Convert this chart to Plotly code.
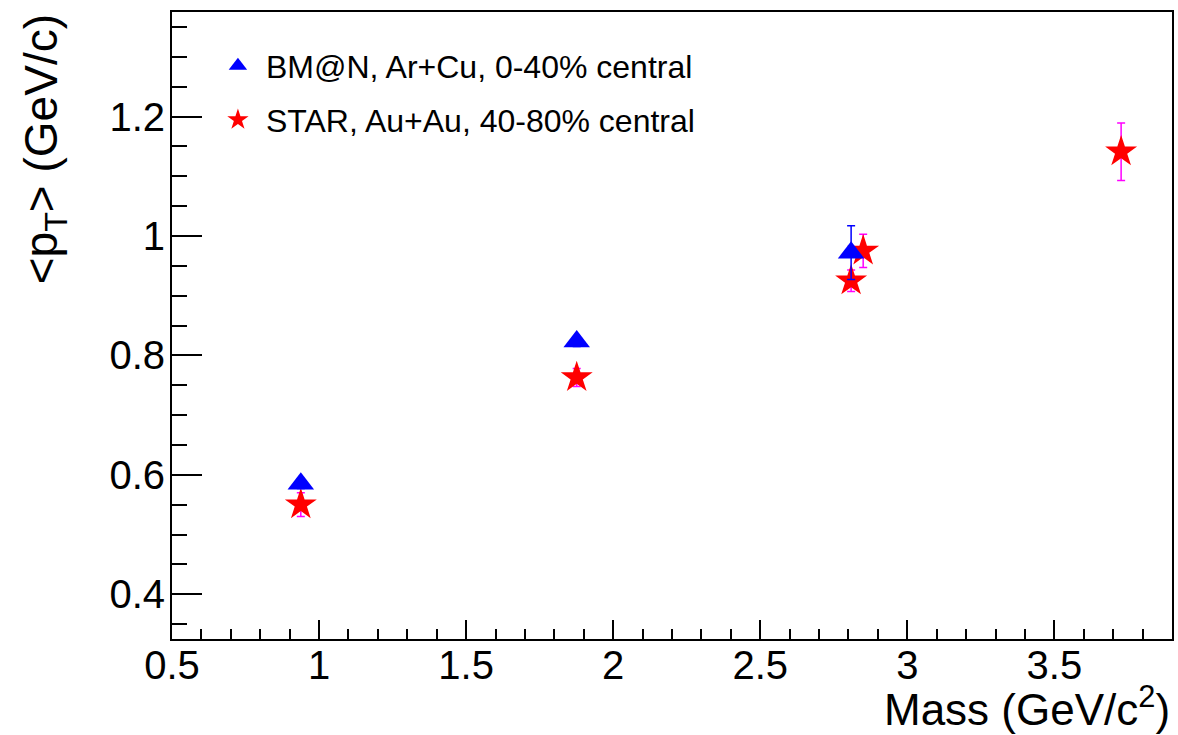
import plotly.graph_objects as go

# BM@N, Ar+Cu, 0-40% central
bmn_mass = [0.938, 1.876, 2.809]
bmn_pt = [0.585, 0.823, 0.972]
bmn_err = [0.008, 0.008, 0.045]

# STAR, Au+Au, 40-80% central
star_mass = [0.938, 1.876, 2.809, 2.85, 3.727]
star_pt = [0.550, 0.763, 0.925, 0.975, 1.141]
star_err = [0.020, 0.015, 0.018, 0.028, 0.048]

FONT = "Liberation Sans, Arial, Helvetica, sans-serif"

fig = go.Figure()
fig.add_trace(go.Scatter(
    x=star_mass, y=star_pt, mode="markers",
    name="STAR, Au+Au, 40-80% central",
    marker=dict(symbol="star", size=24, color="red", line=dict(width=0)),
    error_y=dict(type="data", array=star_err, color="magenta", thickness=1.5, width=4),
    legend="legend2",
))
fig.add_trace(go.Scatter(
    x=bmn_mass, y=bmn_pt, mode="markers",
    name="BM@N, Ar+Cu, 0-40% central",
    marker=dict(symbol="triangle-up", size=23, color="blue", line=dict(width=0)),
    error_y=dict(type="data", array=bmn_err, color="blue", thickness=1.5, width=4),
    legend="legend",
))

L, R, T, B = 172, 4, 12, 96
W, H = 1178, 735
pw = W - L - R
ph = H - T - B

def px2paper_x(px):
    return (px - L) / pw

def px2paper_y(py):
    return (H - B - py) / ph

leg_common = dict(xanchor="left", yanchor="middle", font=dict(size=32, family=FONT),
                  bgcolor="rgba(0,0,0,0)", itemsizing="trace", itemwidth=46)

fig.update_layout(
    width=W, height=H,
    margin=dict(l=L, r=R, t=T, b=B),
    paper_bgcolor="white", plot_bgcolor="white",
    font=dict(family=FONT, color="black"),
    showlegend=True,
    legend=dict(x=px2paper_x(210), y=px2paper_y(66), **leg_common),
    legend2=dict(x=px2paper_x(210), y=px2paper_y(120), **leg_common),
    xaxis=dict(
        range=[0.5, 3.9], tick0=0.5, dtick=0.5, ticks="inside", ticklen=19, tickwidth=2,
        tickcolor="black", showline=True, linecolor="black", linewidth=2, mirror=True,
        showgrid=False, zeroline=False, tickfont=dict(size=40, family=FONT),
        ticklabelstandoff=-10,
        minor=dict(dtick=0.1, tick0=0.5, ticks="inside", ticklen=10, tickwidth=2, tickcolor="black", showgrid=False),
    ),
    yaxis=dict(
        range=[0.325, 1.375], tick0=0.4, dtick=0.2, ticks="inside", ticklen=30, tickwidth=2,
        tickcolor="black", showline=True, linecolor="black", linewidth=2, mirror=True,
        showgrid=False, zeroline=False, tickfont=dict(size=40, family=FONT),
        ticklabelstandoff=-3,
        minor=dict(dtick=0.05, tick0=0.4, ticks="inside", ticklen=15, tickwidth=2, tickcolor="black", showgrid=False),
    ),
    annotations=[
        dict(text="Mass (GeV/c<sup>2</sup>)", xref="paper", yref="paper",
             x=1.0, y=px2paper_y(706), xanchor="right", yanchor="middle",
             showarrow=False, font=dict(size=44, family=FONT)),
        dict(text="&lt;p<sub>T</sub>&gt; (GeV/c)", xref="paper", yref="paper",
             x=px2paper_x(44), y=1.0, xanchor="center", yanchor="top", textangle=-90,
             showarrow=False, font=dict(size=46, family=FONT)),
    ],
)

fig.write_html("out.html")
